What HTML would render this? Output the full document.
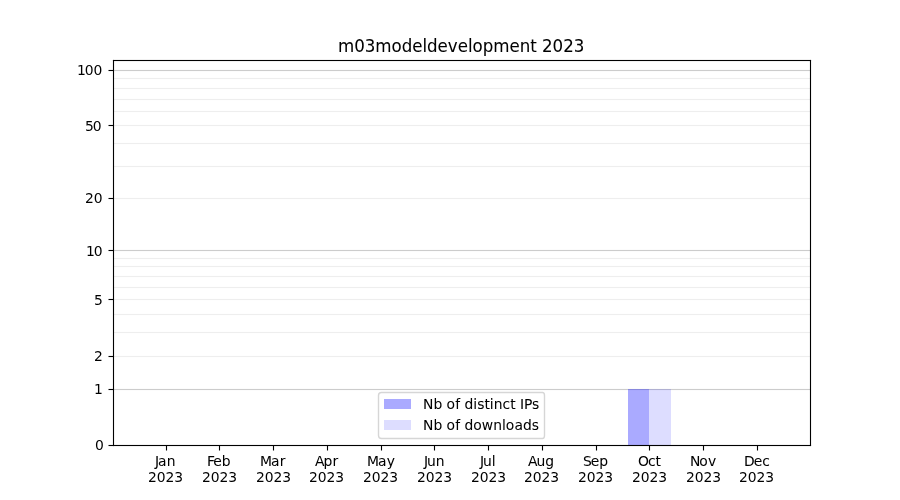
<!DOCTYPE html>
<html lang="en">
<head>
<meta charset="utf-8">
<title>m03modeldevelopment 2023</title>
<style>
html,body{margin:0;padding:0;background:#ffffff;}
body{width:900px;height:500px;overflow:hidden;}
svg{display:block;will-change:transform;}
text{font-family:"DejaVu Sans","Liberation Sans",sans-serif;font-size:13.8889px;fill:#000000;}
.title{font-size:16.6667px;stroke:#000000;stroke-width:0.05;}
.mo,.lg{stroke:#000000;stroke-width:0.03;}
</style>
</head>
<body>
<svg width="900" height="500" viewBox="0 0 900 500">
<rect x="0" y="0" width="900" height="500" fill="#ffffff"/>
<!-- grid -->
<g>
<rect fill="#cccccc" x="113" y="69.9444" width="697.5" height="1.1111"/>
<rect fill="#cccccc" x="113" y="249.9444" width="697.5" height="1.1111"/>
<rect fill="#cccccc" x="113" y="388.9444" width="697.5" height="1.1111"/>
<rect fill="#eeeeee" x="113" y="77.9444" width="697.5" height="1.1111"/>
<rect fill="#eeeeee" x="113" y="87.9444" width="697.5" height="1.1111"/>
<rect fill="#eeeeee" x="113" y="98.9444" width="697.5" height="1.1111"/>
<rect fill="#eeeeee" x="113" y="110.9444" width="697.5" height="1.1111"/>
<rect fill="#eeeeee" x="113" y="124.9444" width="697.5" height="1.1111"/>
<rect fill="#eeeeee" x="113" y="142.9444" width="697.5" height="1.1111"/>
<rect fill="#eeeeee" x="113" y="165.9444" width="697.5" height="1.1111"/>
<rect fill="#eeeeee" x="113" y="197.9444" width="697.5" height="1.1111"/>
<rect fill="#eeeeee" x="113" y="257.9444" width="697.5" height="1.1111"/>
<rect fill="#eeeeee" x="113" y="265.9444" width="697.5" height="1.1111"/>
<rect fill="#eeeeee" x="113" y="275.9444" width="697.5" height="1.1111"/>
<rect fill="#eeeeee" x="113" y="286.9444" width="697.5" height="1.1111"/>
<rect fill="#eeeeee" x="113" y="298.9444" width="697.5" height="1.1111"/>
<rect fill="#eeeeee" x="113" y="313.9444" width="697.5" height="1.1111"/>
<rect fill="#eeeeee" x="113" y="331.9444" width="697.5" height="1.1111"/>
<rect fill="#eeeeee" x="113" y="355.9444" width="697.5" height="1.1111"/>
</g>
<!-- bars -->
<rect x="628" y="389" width="21" height="56" fill="#0000ff" fill-opacity="0.33333"/>
<rect x="649" y="389" width="22" height="56" fill="#0000ff" fill-opacity="0.13333"/>
<!-- ticks -->
<g fill="#000000">
<rect x="165.9444" y="445.5" width="1.1111" height="5"/>
<rect x="218.9444" y="445.5" width="1.1111" height="5"/>
<rect x="272.9444" y="445.5" width="1.1111" height="5"/>
<rect x="326.9444" y="445.5" width="1.1111" height="5"/>
<rect x="380.9444" y="445.5" width="1.1111" height="5"/>
<rect x="433.9444" y="445.5" width="1.1111" height="5"/>
<rect x="487.9444" y="445.5" width="1.1111" height="5"/>
<rect x="541.9444" y="445.5" width="1.1111" height="5"/>
<rect x="595.9444" y="445.5" width="1.1111" height="5"/>
<rect x="648.9444" y="445.5" width="1.1111" height="5"/>
<rect x="702.9444" y="445.5" width="1.1111" height="5"/>
<rect x="756.9444" y="445.5" width="1.1111" height="5"/>
<rect x="108.5" y="444.9444" width="5" height="1.1111"/>
<rect x="108.5" y="388.9444" width="5" height="1.1111"/>
<rect x="108.5" y="355.9444" width="5" height="1.1111"/>
<rect x="108.5" y="298.9444" width="5" height="1.1111"/>
<rect x="108.5" y="249.9444" width="5" height="1.1111"/>
<rect x="108.5" y="197.9444" width="5" height="1.1111"/>
<rect x="108.5" y="124.9444" width="5" height="1.1111"/>
<rect x="108.5" y="69.9444" width="5" height="1.1111"/>
</g>
<!-- frame -->
<g fill="#000000"><rect x="112.9444" y="59.9444" width="1.1111" height="386.1111"/><rect x="809.9444" y="59.9444" width="1.1111" height="386.1111"/><rect x="112.9444" y="444.9444" width="698.1111" height="1.1111"/><rect x="112.9444" y="59.9444" width="698.1111" height="1.1111"/></g>
<!-- x tick labels -->
<g>
<text class="mo" transform="translate(154.12 465.53) scale(1 1.01)" x="0.875 4 12.625" y="0">Jan</text><text transform="translate(147.90 481.58) scale(1 1.01)" x="0 8.75 17.5 26.25" y="0">2023</text>
<text class="mo" transform="translate(205.89 465.53) scale(1 1.01)" x="1 7.25 15.75" y="0">Feb</text><text transform="translate(201.89 481.58) scale(1 1.01)" x="0 8.75 17.5 26.25" y="0">2023</text>
<text class="mo" transform="translate(259.94 465.53) scale(1 1.01)" x="0 11 19.75" y="0">Mar</text><text transform="translate(256.00 481.58) scale(1 1.01)" x="0 8.75 17.5 26.25" y="0">2023</text>
<text class="mo" transform="translate(314.02 465.53) scale(1 1.01)" x="0.875 9.5 18.375" y="0">Apr</text><text transform="translate(308.99 481.58) scale(1 1.01)" x="0 8.75 17.5 26.25" y="0">2023</text>
<text class="mo" transform="translate(366.16 465.53) scale(1 1.01)" x="0.75 11.75 20.625" y="0">May</text><text transform="translate(362.97 481.58) scale(1 1.01)" x="0 8.75 17.5 26.25" y="0">2023</text>
<text class="mo" transform="translate(422.91 465.53) scale(1 1.01)" x="1 4 12.75" y="0">Jun</text><text transform="translate(416.96 481.58) scale(1 1.01)" x="0 8.75 17.5 26.25" y="0">2023</text>
<text class="mo" transform="translate(478.99 465.53) scale(1 1.01)" x="1 4 12.75" y="0">Jul</text><text transform="translate(470.94 481.58) scale(1 1.01)" x="0 8.75 17.5 26.25" y="0">2023</text>
<text class="mo" transform="translate(527.04 465.53) scale(1 1.01)" x="0.875 9.5 18.25" y="0">Aug</text><text transform="translate(523.93 481.58) scale(1 1.01)" x="0 8.75 17.5 26.25" y="0">2023</text>
<text class="mo" transform="translate(582.13 465.53) scale(1 1.01)" x="0.75 8.75 17.25" y="0">Sep</text><text transform="translate(577.92 481.58) scale(1 1.01)" x="0 8.75 17.5 26.25" y="0">2023</text>
<text class="mo" transform="translate(637.20 465.53) scale(1 1.01)" x="0.75 10.875 18.25" y="0">Oct</text><text transform="translate(631.90 481.58) scale(1 1.01)" x="0 8.75 17.5 26.25" y="0">2023</text>
<text class="mo" transform="translate(689.13 465.53) scale(1 1.01)" x="0.75 10 18.875" y="0">Nov</text><text transform="translate(685.89 481.58) scale(1 1.01)" x="0 8.75 17.5 26.25" y="0">2023</text>
<text class="mo" transform="translate(742.99 465.53) scale(1 1.01)" x="1 10.75 19.25" y="0">Dec</text><text transform="translate(739.00 481.58) scale(1 1.01)" x="0 8.75 17.5 26.25" y="0">2023</text>
</g>
<!-- y tick labels -->
<g>
<text transform="translate(94.95 449.53) scale(1 1.01)" x="0" y="0">0</text>
<text transform="translate(93.95 393.69) scale(1 1.01)" x="0" y="0">1</text>
<text transform="translate(93.95 360.74) scale(1 1.01)" x="0" y="0">2</text>
<text transform="translate(93.95 304.65) scale(1 1.01)" x="0" y="0">5</text>
<text transform="translate(85.25 255.64) scale(1 1.01)" x="0.75 8.5" y="0">10</text>
<text transform="translate(85.00 202.59) scale(1 1.01)" x="0 8.75" y="0">20</text>
<text transform="translate(84.00 130.72) scale(1 1.01)" x="1 8.75" y="0">50</text>
<text transform="translate(75.92 74.69) scale(1 1.01)" x="1 8.875 17.625" y="0">100</text>
</g>
<!-- title -->
<text class="title" transform="translate(337.94 51.67) scale(1 1.01)" x="0 16.25 26.75 37.375 53.625 63.75 74.25 84.5 89.125 99.625 109.875 119.75 130 134.625 144.75 155.25 171.5 181.75 192.25 198.75 204 214.625 225.25 235.75" y="0">m03modeldevelopment 2023</text>
<!-- legend -->
<g>
<path d="M381.5 392.5 L542.5 392.5 Q544.5 392.5 544.5 395.5 L544.5 435.5 Q544.5 438.5 542.5 438.5 L381.5 438.5 Q378.5 438.5 378.5 435.5 L378.5 395.5 Q378.5 392.5 381.5 392.5 Z" fill="#ffffff" fill-opacity="0.8" stroke="#cccccc" stroke-opacity="0.8" stroke-width="1.3889" stroke-linejoin="miter"/>
<rect x="384" y="399" width="27" height="10" fill="#0000ff" fill-opacity="0.33333"/>
<rect x="384" y="420" width="27" height="10" fill="#0000ff" fill-opacity="0.13333"/>
<text class="lg" transform="translate(423.12 408.73) scale(1 1.01)" x="0 10.375 19.25 23.375 32.125 37.125 41.5 50.125 54.25 61.375 66.625 70.75 79.5 87.125 92.625 97 101 108.875" y="0">Nb of distinct IPs</text>
<text class="lg" transform="translate(423.12 429.61) scale(1 1.01)" x="0 10.375 19.25 23.375 32.125 37.125 41.5 50.125 58.625 70.25 79 82.625 91.375 100 108.625" y="0">Nb of downloads</text>
</g>
</svg>
</body>
</html>
